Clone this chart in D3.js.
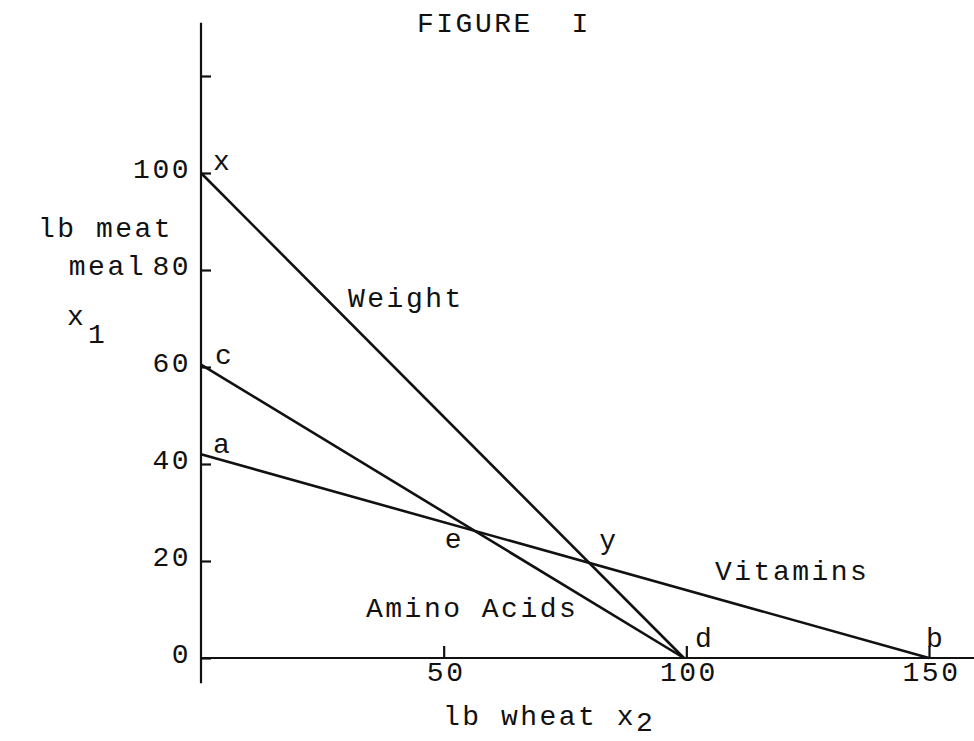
<!DOCTYPE html>
<html>
<head>
  <meta charset="utf-8">
  <title>Figure I</title>
  <script src="https://d3js.org/d3.v7.min.js"></script>
  <style>
    body { margin: 0; background: #fff; }
    text { font-family: "Liberation Mono", "DejaVu Sans Mono", monospace; font-size: 28px; letter-spacing: 2.5px; fill: #111; }
    .constraint { fill: none; stroke: #111; stroke-width: 2.6px; }
    .axisline { stroke: #111; stroke-width: 2.2px; }
    .tick line { stroke: #111; stroke-width: 2.2px; }
  </style>
</head>
<body>
<div id="chart"></div>
<script>

  //constraint lines
  var lineNames = ["Weight", "Amino Acids", "Vitamins"];
  var meatIntercept = [100, 60.5, 42];    // x1 where x2 = 0
  var wheatIntercept = [99.5, 99.5, 150]; // x2 where x1 = 0
  var endLabelsTop = ["x", "c", "a"];
  var endLabelsBottom = ["d", "d", "b"];

  //axes
  var xTicks = [50, 100, 150];
  var yTicks = [0, 20, 40, 60, 80, 100, 120];

  var width = 974, height = 741;

  var svg = d3.select("#chart").append("svg")
          .attr("width", width).attr("height", height);

  var x = d3.scaleLinear().domain([0, 150]).range([201, 929]);
  var y = d3.scaleLinear().domain([0, 100]).range([658, 173]);

  //axis lines
  svg.append("line").attr("class", "axisline")
          .attr("x1", x(0)).attr("x2", x(0)).attr("y1", y(-5.2)).attr("y2", y(131));
  svg.append("line").attr("class", "axisline")
          .attr("x1", x(0)).attr("x2", x(162)).attr("y1", y(0)).attr("y2", y(0));

  //y ticks point inwards
  var gy = svg.append("g")
          .attr("transform", "translate(" + x(0) + ",0)")
          .call(d3.axisLeft(y).tickValues(yTicks).tickSizeInner(-10).tickSizeOuter(0).tickPadding(10)
                  .tickFormat(function(d) { return d > 100 ? "" : d; }));
  gy.select(".domain").remove();
  gy.attr("font-family", null).attr("font-size", null);
  gy.selectAll("text").attr("dy", "0.17em").attr("fill", null);

  var gx = svg.append("g")
          .attr("transform", "translate(0," + y(0) + ")")
          .call(d3.axisBottom(x).tickValues(xTicks).tickSizeInner(-12).tickSizeOuter(0));
  gx.select(".domain").remove();
  gx.attr("font-family", null).attr("font-size", null);
  gx.selectAll("text").attr("y", 23).attr("dy", null).attr("dx", 2).attr("fill", null);

  //constraints
  var lines = lineNames.map(function(n, i) {
    return { name: n, a: meatIntercept[i], b: wheatIntercept[i] };
  });

  svg.selectAll(".constraint")
          .data(lines)
          .enter().append("line")
          .attr("class", "constraint")
          .attr("x1", x(0)).attr("y1", function(d) { return y(d.a); })
          .attr("x2", function(d) { return x(d.b); }).attr("y2", y(0));

  //end point letters
  var topOff = [[12, -3], [14, -1], [12, -1]];
  lines.forEach(function(d, i) {
    svg.append("text").attr("x", x(0) + topOff[i][0]).attr("y", y(d.a) + topOff[i][1]).text(endLabelsTop[i]);
  });
  svg.append("text").attr("x", x(lines[0].b) + 11).attr("y", y(0) - 11).text(endLabelsBottom[0]);
  svg.append("text").attr("x", x(lines[2].b) - 3).attr("y", y(0) - 11).text(endLabelsBottom[2]);

  //intersection of two constraints
  var cross = function(p, q) {
    // x1 = a(1 - x2/b)
    var s = (p.a - q.a) / (p.a / p.b - q.a / q.b);
    return [s, p.a * (1 - s / p.b)];
  };
  var e = cross(lines[1], lines[2]);
  var yy = cross(lines[0], lines[2]);
  svg.append("text").attr("x", x(e[0]) - 30).attr("y", y(e[1]) + 17).text("e");
  svg.append("text").attr("x", x(yy[0]) + 10).attr("y", y(yy[1]) - 14).text("y");

  //line names
  svg.append("text").attr("x", 348).attr("y", 307).text(lineNames[0]);
  svg.append("text").attr("x", 366).attr("y", 617).text(lineNames[1]);
  svg.append("text").attr("x", 715).attr("y", 580).text(lineNames[2]);

  //titles
  svg.append("text").attr("x", 417).attr("y", 32).attr("xml:space", "preserve").text("FIGURE  I");
  svg.append("text").attr("x", 38).attr("y", 237).text("lb meat");
  svg.append("text").attr("x", 146).attr("y", 275).attr("text-anchor", "end").text("meal");
  svg.append("text").attr("x", 67).attr("y", 325).text("x");
  svg.append("text").attr("x", 88).attr("y", 343).text("1");

  var xt = svg.append("text").attr("x", 443).attr("y", 725);
  xt.append("tspan").attr("xml:space", "preserve").text("lb wheat x");
  xt.append("tspan").attr("dy", 6).text("2");

</script>
</body>
</html>
